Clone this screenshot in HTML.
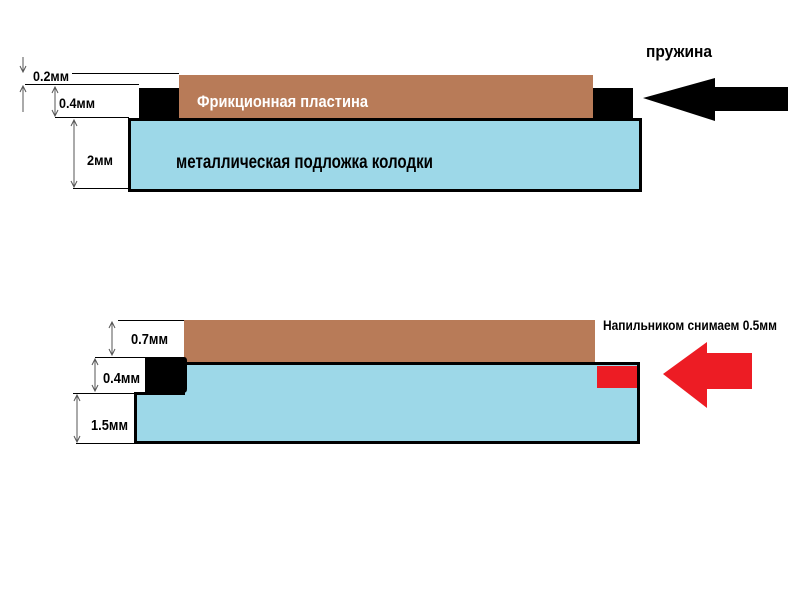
<!DOCTYPE html>
<html><head><meta charset="utf-8"><style>
html,body{margin:0;padding:0;background:#fff;width:800px;height:600px;overflow:hidden}
text{font-family:"Liberation Sans",sans-serif;font-weight:bold}
</style></head><body>
<svg width="800" height="600" xmlns="http://www.w3.org/2000/svg">
<defs>
<marker id="a" markerWidth="8" markerHeight="8" refX="7" refY="4" orient="auto-start-reverse" markerUnits="userSpaceOnUse">
<path d="M1,1 L7,4 L1,7" fill="none" stroke="#555" stroke-width="1"/></marker>
</defs>
<!-- TOP -->
<rect x="179" y="75" width="414" height="44" fill="#b87b58"/>
<rect x="139" y="88" width="40" height="31" fill="#000"/>
<rect x="593" y="88" width="40" height="31" fill="#000"/>
<rect x="129.5" y="119.5" width="511" height="71" fill="#9dd8e8" stroke="#000" stroke-width="3"/>
<text x="197" y="107" fill="#fff" font-size="17" textLength="171" lengthAdjust="spacingAndGlyphs">Фрикционная пластина</text>
<text x="176" y="168" fill="#000" font-size="19" textLength="257" lengthAdjust="spacingAndGlyphs">металлическая подложка колодки</text>
<text x="646" y="57" fill="#000" font-size="17" textLength="66" lengthAdjust="spacingAndGlyphs">пружина</text>
<polygon points="643,98 715,78 715,87 788,87 788,111 715,111 715,121" fill="#000"/>
<g stroke="#000" stroke-width="1">
<line x1="72" y1="73.5" x2="179" y2="73.5"/>
<line x1="25" y1="84.5" x2="139" y2="84.5"/>
<line x1="55" y1="117.5" x2="129" y2="117.5"/>
<line x1="73" y1="188.5" x2="129" y2="188.5"/>
</g>
<g stroke="#555" stroke-width="1">
<line x1="23" y1="57" x2="23" y2="72" marker-end="url(#a)"/>
<line x1="23" y1="112" x2="23" y2="86" marker-end="url(#a)"/>
<line x1="55" y1="87" x2="55" y2="116" marker-start="url(#a)" marker-end="url(#a)"/>
<line x1="74" y1="120" x2="74" y2="187" marker-start="url(#a)" marker-end="url(#a)"/>
</g>
<text x="33" y="81" font-size="14" textLength="36" lengthAdjust="spacingAndGlyphs">0.2мм</text>
<text x="59" y="108" font-size="14" textLength="36" lengthAdjust="spacingAndGlyphs">0.4мм</text>
<text x="87" y="165" font-size="14" textLength="26" lengthAdjust="spacingAndGlyphs">2мм</text>
<!-- BOTTOM -->
<rect x="184" y="320" width="411" height="43" fill="#b87b58"/>
<path d="M183.5,363.5 H638.5 V442.5 H135.5 V393.5 H183.5 Z" fill="#9dd8e8" stroke="#000" stroke-width="3"/>
<path d="M145,357 H184 Q187,357 187,361 V389 Q187,393 183,393 H145 Z" fill="#000"/>
<rect x="597" y="366" width="40" height="22" fill="#ed1c24"/>
<polygon points="663,374 707,342 707,353 752,353 752,389 707,389 707,408" fill="#ed1c24"/>
<text x="603" y="330" font-size="14" textLength="174" lengthAdjust="spacingAndGlyphs">Напильником снимаем 0.5мм</text>
<g stroke="#000" stroke-width="1">
<line x1="118" y1="320.5" x2="184" y2="320.5"/>
<line x1="95" y1="357.5" x2="145" y2="357.5"/>
<line x1="73" y1="393.5" x2="135" y2="393.5"/>
<line x1="76" y1="443.5" x2="135" y2="443.5"/>
</g>
<g stroke="#555" stroke-width="1">
<line x1="112" y1="322" x2="112" y2="355" marker-start="url(#a)" marker-end="url(#a)"/>
<line x1="95" y1="359" x2="95" y2="391" marker-start="url(#a)" marker-end="url(#a)"/>
<line x1="77" y1="395" x2="77" y2="442" marker-start="url(#a)" marker-end="url(#a)"/>
</g>
<text x="131" y="344" font-size="15" textLength="37" lengthAdjust="spacingAndGlyphs">0.7мм</text>
<text x="103" y="383" font-size="15" textLength="37" lengthAdjust="spacingAndGlyphs">0.4мм</text>
<text x="91" y="430" font-size="15" textLength="37" lengthAdjust="spacingAndGlyphs">1.5мм</text>
</svg>
</body></html>
